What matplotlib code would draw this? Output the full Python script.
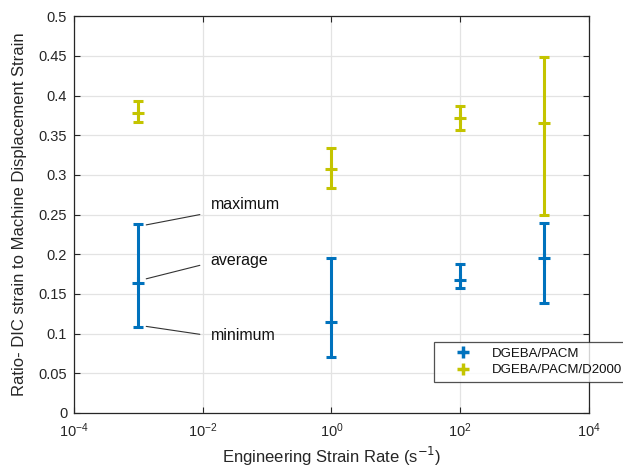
import matplotlib
matplotlib.use("Agg")
import matplotlib.pyplot as plt
import numpy as np
from matplotlib.lines import Line2D

plt.rcParams['font.family'] = ['Liberation Sans', 'DejaVu Sans']

strain_rate = [1e-3, 1e0, 1e2, 2e3]
pacm_avg = [0.164, 0.114, 0.168, 0.195]
pacm_min = [0.108, 0.071, 0.157, 0.139]
pacm_max = [0.238, 0.195, 0.188, 0.240]
d2000_avg = [0.378, 0.308, 0.372, 0.365]
d2000_min = [0.367, 0.284, 0.357, 0.249]
d2000_max = [0.393, 0.334, 0.387, 0.449]

labels = ['DGEBA/PACM', 'DGEBA/PACM/D2000']
colors = ['#0072BD', '#C4C400']
yticks = [0, 0.05, 0.1, 0.15, 0.2, 0.25, 0.3, 0.35, 0.4, 0.45, 0.5]
ytick_labels = ['0', '0.05', '0.1', '0.15', '0.2', '0.25', '0.3', '0.35', '0.4', '0.45', '0.5']
xticks = [1e-4, 1e-2, 1e0, 1e2, 1e4]

fig = plt.figure(figsize=(6.23, 4.67), dpi=100)
ax = fig.add_axes([0.119, 0.116, 0.826, 0.849])

txtc = '#262626'
for avg, lo, hi, c, lab in [(pacm_avg, pacm_min, pacm_max, colors[0], labels[0]),
                            (d2000_avg, d2000_min, d2000_max, colors[1], labels[1])]:
    avg = np.array(avg); lo = np.array(lo); hi = np.array(hi)
    ax.errorbar(strain_rate, avg, yerr=[avg - lo, hi - avg], fmt='+', color=c,
                ecolor=c, elinewidth=2.2, capsize=3.5, capthick=2.2,
                markersize=9, markeredgewidth=2.2, label=lab, zorder=3)

ax.set_xscale('log')
ax.set_xlim(1e-4, 1e4)
ax.set_ylim(0, 0.5)
ax.set_xticks(xticks)
ax.xaxis.set_minor_locator(matplotlib.ticker.NullLocator())
ax.set_yticks(yticks)
ax.set_yticklabels(ytick_labels)
ax.grid(True, color='#e3e3e3', linewidth=0.9, zorder=0)
ax.set_axisbelow(True)
ax.tick_params(direction='in', top=True, right=True, length=4, width=0.8,
               colors=txtc, labelsize=10.5, pad=6)
ax.tick_params(axis='y', pad=5)
for s in ax.spines.values():
    s.set_color(txtc)
    s.set_linewidth(0.9)

ax.set_xlabel('Engineering Strain Rate (s$^{-1}$)', fontsize=12, color=txtc, labelpad=4)
ax.set_ylabel('Ratio- DIC strain to Machine Displacement Strain', fontsize=12, color=txtc, labelpad=8)

ann = dict(arrowstyle='-', color='#333333', lw=0.8, shrinkA=0, shrinkB=0)
ax.annotate('', xy=(1.32e-3, 0.237), xytext=(9e-3, 0.250), arrowprops=ann)
ax.annotate('', xy=(1.32e-3, 0.169), xytext=(9e-3, 0.186), arrowprops=ann)
ax.annotate('', xy=(1.32e-3, 0.109), xytext=(9e-3, 0.099), arrowprops=ann)
ax.text(1.33e-2, 0.263, 'maximum', fontsize=11.5, color='#111111', va='center')
ax.text(1.33e-2, 0.192, 'average', fontsize=11.5, color='#111111', va='center')
ax.text(1.33e-2, 0.098, 'minimum', fontsize=11.5, color='#111111', va='center')

h2 = [Line2D([], [], marker='+', linestyle='none', color=c, markersize=9, markeredgewidth=2.5) for c in colors]
leg = fig.legend(h2, labels, loc='upper left', bbox_to_anchor=(434/623, 1 - 342/467),
                 fontsize=9.5, frameon=True, fancybox=False, edgecolor=txtc,
                 borderpad=0.4, handletextpad=0.4, labelspacing=0.35, handlelength=3.6,
                 borderaxespad=0)
leg.get_frame().set_linewidth(0.9)
for t in leg.get_texts():
    t.set_color('#111111')

fig.savefig('out.png', dpi=100)
